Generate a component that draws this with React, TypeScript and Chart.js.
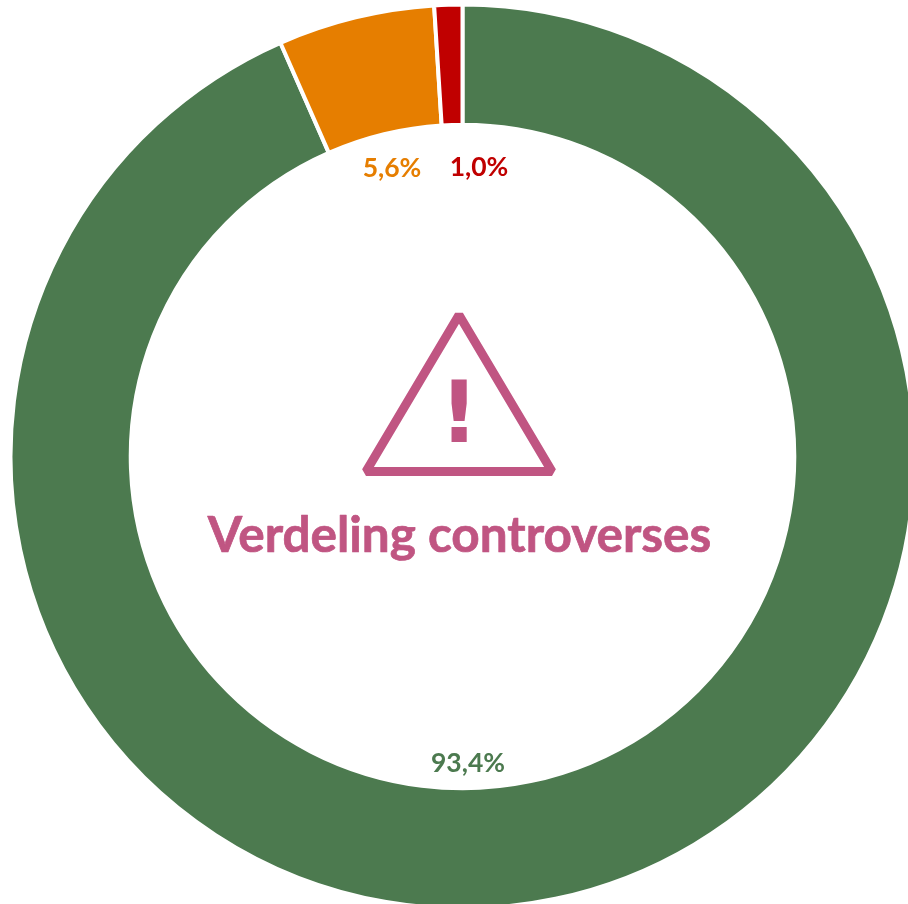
import React, { useEffect, useRef } from "react";
import { Chart, registerables } from "chart.js";

Chart.register(...registerables);

const categories = ["Geen controverse", "Matige controverse", "Ernstige controverse"];
const shares = [93.4, 5.6, 1.0];
const sliceColors = ["#4C7A4F", "#E67E00", "#C00000"];
const shareLabels = ["93,4%", "5,6%", "1,0%"];
const labelOffsets = [[5.5, 306.5], [-70.5, -288.5], [16.5, -289.5]];
const titleText = "Verdeling controverses";
const pink = "#C05582";
const fontFamily = "Lato, Carlito, sans-serif";

const centerPlugin = {
  id: "centerDecor",
  afterDraw(chart: any) {
    const ctx = chart.ctx;
    const arc = chart.getDatasetMeta(0).data[0];
    const cx = arc.x;
    const cy = arc.y;
    ctx.save();
    ctx.textAlign = "center";
    ctx.textBaseline = "middle";
    ctx.font = `700 26.5px ${fontFamily}`;
    shareLabels.forEach((t, i) => {
      ctx.fillStyle = sliceColors[i];
      ctx.fillText(t, cx + labelOffsets[i][0], cy + labelOffsets[i][1]);
    });
    ctx.strokeStyle = pink;
    ctx.fillStyle = pink;
    ctx.lineWidth = 9;
    ctx.lineJoin = "bevel";
    ctx.beginPath();
    ctx.moveTo(cx - 3.5, cy - 141.5);
    ctx.lineTo(cx - 96.5, cy + 15);
    ctx.lineTo(cx + 89.5, cy + 15);
    ctx.closePath();
    ctx.stroke();
    ctx.font = `700 86px "DejaVu Sans", ${fontFamily}`;
    ctx.textBaseline = "alphabetic";
    ctx.fillText("!", cx - 3.5, cy - 14.5);
    ctx.font = `700 49.5px ${fontFamily}`;
    ctx.fillText(titleText, cx - 3, cy + 95);
    ctx.lineWidth = 0.7;
    ctx.lineJoin = "round";
    ctx.strokeText(titleText, cx - 3, cy + 95);
    ctx.restore();
  },
};

export default function App() {
  const ref = useRef<HTMLCanvasElement>(null);
  useEffect(() => {
    document.body.style.margin = "0";
    const chart = new Chart(ref.current!, {
      type: "doughnut",
      data: {
        labels: categories,
        datasets: [
          {
            data: shares,
            backgroundColor: sliceColors,
            borderColor: "#FFFFFF",
            borderWidth: 4,
          },
        ],
      },
      options: {
        animation: false,
        responsive: false,
        cutout: "73.4%",
        layout: { padding: 2.5 },
        plugins: { legend: { display: false }, tooltip: { enabled: false } },
      },
      plugins: [centerPlugin],
    });
    return () => chart.destroy();
  }, []);
  return (
    <div style={{ width: 908, height: 904, overflow: "hidden", background: "#fff" }}>
      <canvas ref={ref} width={925} height={913} style={{ display: "block" }} />
    </div>
  );
}
